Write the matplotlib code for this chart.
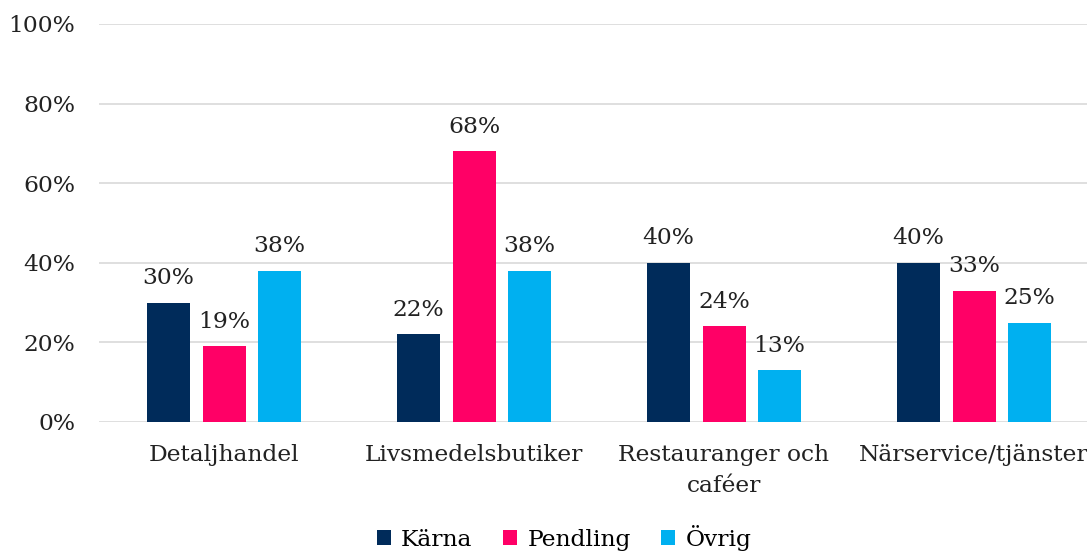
import matplotlib
matplotlib.use("Agg")
import matplotlib.pyplot as plt
import numpy as np
from matplotlib.patches import Patch

categories = ["Detaljhandel", "Livsmedelsbutiker", "Restauranger och\ncaféer", "Närservice/tjänster"]
series_names = ["Kärna", "Pendling", "Övrig"]
karna = [30, 22, 40, 40]
pendling = [19, 68, 24, 33]
ovrig = [38, 38, 13, 25]
yticks = [0, 20, 40, 60, 80, 100]

colors = ["#002B5A", "#FF0066", "#00B0F0"]
plt.rcParams['font.family'] = ['DejaVu Serif']

W, H = 1087, 551
fig = plt.figure(figsize=(W/100, H/100), dpi=100)
left = 99 / W
width = 1000 / W
bottom = (H - 422) / H
top = (H - 24) / H
ax = fig.add_axes([left, bottom, width, top - bottom])

FS = 16.8
x = np.arange(len(categories))
bw = 0.172
step = 0.222
for i, (vals, c, name) in enumerate(zip([karna, pendling, ovrig], colors, series_names)):
    pos = x + (i - 1) * step
    bars = ax.bar(pos, vals, width=bw, color=c, label=name, zorder=3)
    for b, v in zip(bars, vals):
        ax.text(b.get_x() + b.get_width() / 2, v + 3.4, f"{v}%", ha="center", va="bottom",
                fontsize=FS, color="#222222")

ax.set_xlim(-0.5, len(categories) - 0.5)
ax.set_ylim(0, 100)
ax.set_yticks(yticks)
ax.set_yticklabels([f"{t}%" for t in yticks], fontsize=FS, color="#222222")
ax.set_xticks(x)
ax.set_xticklabels(categories, fontsize=FS, color="#222222", linespacing=1.5)
ax.tick_params(axis="both", length=0)
ax.tick_params(axis="y", pad=17)
ax.tick_params(axis="x", pad=16)
ax.grid(axis="y", color="#D9D9D9", linewidth=1.2, zorder=0)
for s in ax.spines.values():
    s.set_visible(False)

handles = [Patch(facecolor=c, label=n) for c, n in zip(colors, series_names)]
fig.legend(handles=handles, loc="center", bbox_to_anchor=(564 / W, 1 - 538 / H), ncol=3,
           frameon=False, fontsize=FS, handlelength=0.6, handleheight=0.6,
           handletextpad=0.45, columnspacing=1.3)

fig.savefig("out.png", dpi=100)
